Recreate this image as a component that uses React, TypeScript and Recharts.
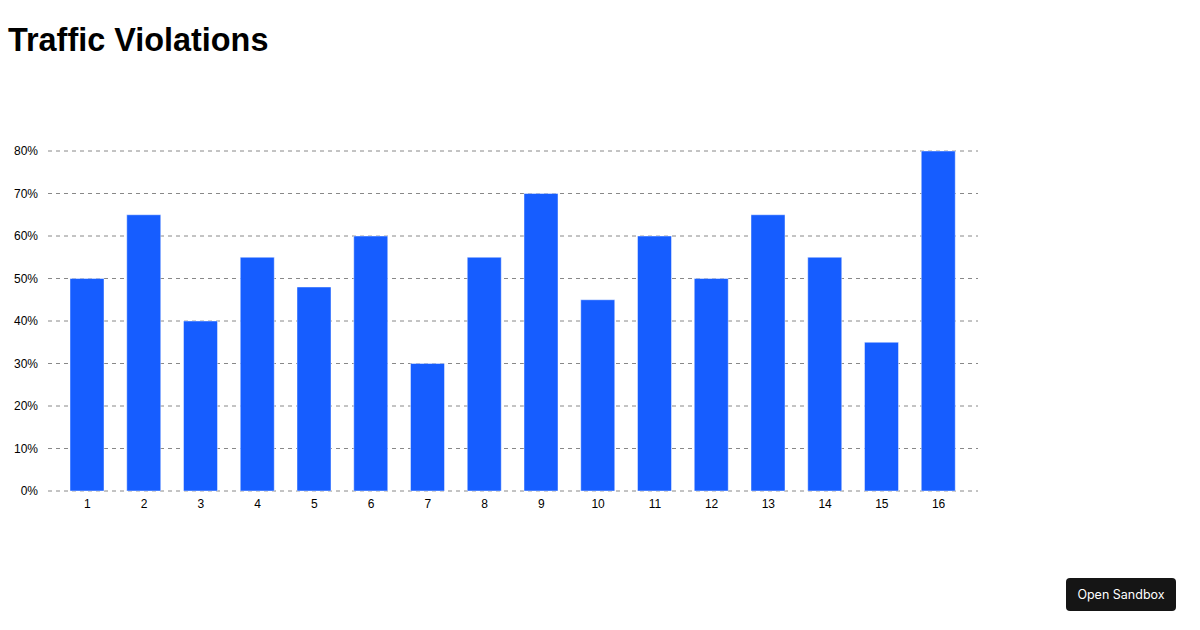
import React from "react";
import { BarChart, Bar, XAxis, YAxis, CartesianGrid } from "recharts";

const categories = ["1", "2", "3", "4", "5", "6", "7", "8", "9", "10", "11", "12", "13", "14", "15", "16"];
const violationRates = [50, 65, 40, 55, 48, 60, 30, 55, 70, 45, 60, 50, 65, 55, 35, 80];
const yTicks = [0, 10, 20, 30, 40, 50, 60, 70, 80];

const data = categories.map((c, i) => ({ name: c, value: violationRates[i] }));

export default function App() {
  return (
    <div style={{ position: "absolute", left: 0, top: 0, width: 1200, height: 630, fontFamily: "'Liberation Sans', Arial, sans-serif", background: "#fff" }}>
      <div style={{ position: "absolute", left: 8, top: 20, fontSize: 32.4, fontWeight: 700, color: "#000", lineHeight: "40px" }}>
        Traffic Violations
      </div>
      <div style={{ position: "absolute", left: 0, top: 141 }}>
        <BarChart width={1000} height={385} data={data} margin={{ top: 10, right: 22, left: 0, bottom: 5 }}>
          <CartesianGrid vertical={false} stroke="#888" strokeDasharray="4 4" />
          <XAxis
            dataKey="name"
            axisLine={false}
            tickLine={false}
            padding={{ left: 11, right: 11 }}
            tick={{ fill: "#000", fontSize: 12, fontFamily: "'Liberation Sans', Arial, sans-serif" }}
          />
          <YAxis
            width={48}
            domain={[0, 80]}
            ticks={yTicks}
            axisLine={false}
            tickLine={false}
            tickMargin={4}
            tickFormatter={(v: number) => `${v}%`}
            tick={{ fill: "#000", fontSize: 12, fontFamily: "'Liberation Sans', Arial, sans-serif" }}
          />
          <Bar dataKey="value" barSize={34} fill="#165DFF" stroke="rgba(255,255,255,0.45)" strokeWidth={1} isAnimationActive={false} />
        </BarChart>
      </div>
      <div style={{ position: "absolute", left: 1066, top: 578, width: 110, height: 33, background: "#151515", color: "#fff", borderRadius: 4, fontSize: 12.5, fontFamily: "Inter, 'Noto Sans', sans-serif", display: "flex", alignItems: "center", justifyContent: "center" }}>
        Open Sandbox
      </div>
    </div>
  );
}
